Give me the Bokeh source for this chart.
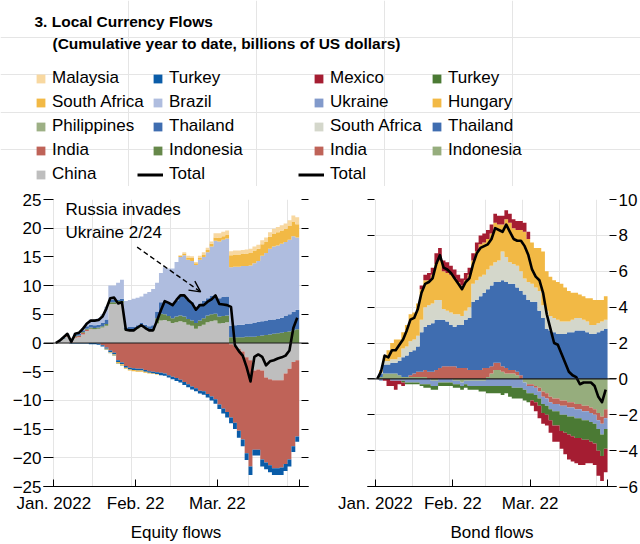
import numpy as np
from bokeh.plotting import figure
from bokeh.layouts import column, row
from bokeh.models import Span, Legend, LegendItem, FixedTicker, LinearAxis, Arrow, OpenHead, Label
from bokeh.core.properties import value
from bokeh.embed import file_html
from bokeh.resources import INLINE

FONT = "Liberation Sans"
FS = "17px"

# ---------------- data ----------------
# one value per business day, index 0 = 3 Jan 2022 ... index 62 = end of March 2022
month_ticks = [0, 21, 42, 63]
month_labels = ["Jan. 2022", "Feb. 22", "Mar. 22", ""]
eq_ticks = [-25, -20, -15, -10, -5, 0, 5, 10, 15, 20, 25]
bd_ticks = [-6, -4, -2, 0, 2, 4, 6, 8, 10]

# Equity flows (cumulative, billions of US dollars)
eq_china = [0, 0.3, 0.7, 1.1, 0.1, 0.9, 1.0, 1.5, 2.1, 2.4,
            2.4, 2.5, 2.7, 3.0, 6.8, 6.8, 7.0, 7.0, 2.2, 2.2,
            2.2, 2.5, 2.9, 2.6, 2.2, 2.2, 3.4, 3.9, 4.0, 3.8,
            3.5, 3.6, 3.8, 3.6, 3.2, 3.0, 2.5, 2.9, 3.2, 3.6,
            3.8, 3.9, 3.4, 3.5, 3.6, -0.2, -0.5, -1.0, -1.5, -2.5,
            -3.0, -4.8, -4.6, -4.8, -6.0, -6.3, -6.5, -6.5, -6.5, -5.3,
            -4.5, -3.3, -3.0]
eq_india = [0, 0, 0, 0.1, 0.1, 0.2, 0.2, 0.3, 0.2, 0.1,
            0, -0.1, -0.4, -0.8, -1.3, -1.7, -3.0, -3.4, -4.0, -4.3,
            -4.4, -4.5, -4.5, -4.7, -4.9, -5.0, -5.1, -5.2, -5.3, -5.6,
            -5.9, -6.1, -6.4, -6.8, -7.2, -7.6, -7.9, -8.3, -8.4, -8.9,
            -9.3, -9.8, -10.7, -11.4, -12.0, -12.8, -13.4, -14.3, -15.3, -16.7,
            -18.5, -13.8, -14.0, -15.5, -14.8, -15.0, -15.3, -15.3, -15.2, -15.8,
            -15.8, -14.7, -13.3]
eq_indonesia = [0, 0, 0.1, 0.1, 0, 0.1, 0.1, 0.1, 0.2, 0.2,
                0.2, 0.2, 0.2, 0.3, 0.3, 0.3, 0.3, 0.3, 0.2, 0.2,
                0.2, 0.2, 0.2, 0.2, 0.2, 0.3, 0.9, 1.2, 1.0, 0.9,
                0.8, 1.0, 1.0, 1.0, 1.0, 0.9, 1.0, 1.0, 1.1, 1.2,
                1.2, 1.2, 1.2, 1.2, 1.2, 1.0, 1.0, 1.0, 1.0, 1.1,
                1.1, 1.1, 1.2, 1.3, 1.4, 1.5, 1.6, 1.7, 1.8, 1.9,
                2.0, 2.2, 2.4]
eq_thailand = [0, 0, 0.1, 0.1, 0, 0.2, 0.3, 0.3, 0.4, 0.5,
               0.5, 0.5, 0.6, 0.8, 0.4, 0.4, 0.3, 0.4, 0.3, 0.4,
               0.4, 0.4, 0.4, 0.4, 0.5, 0.6, 1.2, 2.0, 2.3, 2.3,
               2.5, 2.8, 3.5, 3.7, 3.3, 3.2, 2.6, 3.0, 3.0, 3.0,
               3.2, 3.3, 3.2, 3.3, 3.3, 2.0, 2.1, 2.2, 2.2, 2.2,
               2.3, 2.4, 2.5, 2.5, 2.5, 2.5, 2.5, 2.5, 2.6, 2.8,
               3.0, 3.2, 3.4]
eq_brazil = [0, 0.1, 0.1, 0.2, 0.1, 0.3, 0.3, 0.4, 0.6, 0.9,
             1.0, 1.1, 1.5, 2.2, 2.5, 2.5, 2.9, 3.3, 4.6, 4.7,
             4.9, 4.8, 4.6, 5.4, 6.0, 6.3, 5.0, 5.1, 5.9, 6.0,
             6.2, 6.7, 6.7, 7.0, 7.0, 7.2, 7.5, 7.6, 7.7, 8.0,
             8.6, 9.4, 9.9, 10.0, 10.1, 10.2, 10.2, 10.1, 10.2, 10.1,
             10.1, 10.4, 10.6, 11.4, 11.8, 12.4, 12.7, 12.8, 12.9, 12.9,
             13.0, 13.2, 12.6]
eq_turkey = [0, 0, 0, 0, -0.1, -0.1, -0.1, -0.1, -0.1, -0.2,
             -0.2, -0.2, -0.2, -0.2, -0.3, -0.3, -0.3, -0.3, -0.3, -0.3,
             -0.3, -0.3, -0.3, -0.3, -0.3, -0.3, -0.3, -0.4, -0.4, -0.4,
             -0.4, -0.5, -0.5, -0.5, -0.5, -0.5, -0.5, -0.5, -0.6, -0.6,
             -0.7, -0.8, -0.8, -0.9, -1.0, -1.0, -1.1, -1.2, -1.2, -1.2,
             -1.5, -1.0, -1.0, -1.2, -1.2, -1.2, -1.2, -1.2, -1.3, -1.2,
             -1.2, -1.0, -0.9]
eq_south_africa = [0, 0, 0, 0, 0, 0, 0, 0, 0, 0,
                   0, 0, 0, -0.1, -0.1, -0.1, -0.2, -0.2, -0.2, -0.2,
                   -0.2, -0.2, -0.2, -0.2, -0.1, -0.1, -0.1, 0, 0, 0,
                   0, 0, 0.2, 0.3, 0.4, 0.5, 0.3, 0.3, 0.4, 0.4,
                   0.5, 0.6, 0.6, 0.6, 0.6, 2.1, 2.1, 2.1, 2.1, 2.2,
                   2.2, 2.2, 2.1, 2.0, 2.0, 2.1, 2.2, 2.3, 2.3, 2.3,
                   2.4, 2.5, 2.3]
eq_malaysia = [0, 0, 0, 0, 0, 0, 0, 0, 0, 0,
               0, 0, 0, 0, 0, 0, 0, 0, 0, 0,
               0, 0, 0, 0, 0, 0, 0, 0, 0, 0,
               0, 0, 0.1, 0.2, 0.3, 0.3, 0.2, 0.4, 0.4, 0.4,
               0.4, 0.7, 0.8, 0.8, 0.8, 0.7, 0.7, 0.7, 0.7, 0.7,
               0.7, 0.7, 0.7, 0.7, 0.7, 0.8, 0.9, 0.9, 0.9, 0.9,
               1.0, 1.1, 1.2]
eq_philippines = [0, 0, 0, 0, 0, 0, 0, 0, 0, 0,
                  0, 0, 0, -0.1, -0.1, -0.1, -0.1, -0.1, 0, 0,
                  0, 0, 0, 0, 0, 0, 0, 0, 0, 0,
                  0, 0, 0, 0, 0, 0, 0, 0, 0, 0,
                  0, 0, 0, 0, 0, 0, 0, 0, 0, 0,
                  0, 0, 0, 0, 0, 0, 0, 0, 0, 0,
                  0, 0, 0]
eq_total = [0, 0.4, 1.0, 1.6, 0.2, 1.6, 1.8, 2.5, 3.4, 3.9,
            3.9, 4.0, 4.6, 6.0, 7.8, 7.9, 6.9, 7.1, 2.3, 2.2,
            2.2, 2.7, 3.1, 2.6, 2.2, 2.2, 3.9, 5.7, 7.3, 7.0,
            6.6, 7.5, 8.3, 8.3, 7.5, 6.9, 5.8, 6.6, 6.6, 7.2,
            7.6, 8.3, 6.8, 6.7, 6.6, 6.3, -0.4, -1.4, -2.2, -4.2,
            -6.7, -2.4, -2.0, -2.4, -3.9, -3.2, -3.0, -2.7, -2.5, -2.2,
            -1.3, 2.6, 4.4]

# Bond flows (cumulative, billions of US dollars)
bd_indonesia = [0, 0.1, 0.3, 0.3, 0.3, 0.3, 0.2, 0.1, 0.1, 0.1,
                0.1, 0.1, 0.1, 0.1, 0, -0.1, -0.1, 0, 0, 0,
                0, -0.1, -0.1, -0.2, -0.1, -0.1, -0.1, -0.1, -0.1, -0.1,
                0.1, 0.3, 0.5, 0.5, 0.4, 0.3, 0.3, 0.3, 0.2, 0,
                -0.2, -0.3, -0.3, -0.4, -0.5, -0.7, -0.8, -1.0, -1.1, -1.1,
                -1.2, -1.2, -1.3, -1.3, -1.4, -1.4, -1.5, -1.5, -1.6, -1.7,
                -1.9, -2.1, -1.7]
bd_india = [0, 0, 0, 0, 0, 0, 0, 0, 0, 0.1,
            0.2, 0.3, 0.3, 0.4, 0.4, 0.4, 0.5, 0.6, 0.7, 0.7,
            0.7, 0.7, 0.6, 0.6, 0.6, 0.5, 0.5, 0.5, 0.5, 0.6,
            0.5, 0.4, 0.4, 0.4, 0.3, 0.3, 0.2, 0.2, 0.2, 0.2,
            0, -0.1, -0.1, -0.1, -0.2, -0.3, -0.3, -0.3, -0.3, -0.3,
            -0.3, -0.3, -0.3, -0.3, -0.3, -0.3, -0.3, -0.3, -0.3, -0.3,
            -0.4, -0.4, -0.5]
bd_ukraine = [0, -0.1, 0, 0, -0.1, -0.1, -0.1, -0.1, -0.2, -0.2,
              -0.2, -0.2, -0.3, -0.3, -0.3, -0.3, -0.3, -0.2, -0.2, -0.2,
              -0.2, -0.2, -0.2, -0.2, -0.2, -0.3, -0.3, -0.3, -0.3, -0.3,
              -0.4, -0.4, -0.4, -0.4, -0.4, -0.4, -0.4, -0.5, -0.5, -0.5,
              -0.4, -0.4, -0.4, -0.4, -0.4, -0.4, -0.4, -0.4, -0.4, -0.4,
              -0.5, -0.5, -0.5, -0.5, -0.5, -0.5, -0.5, -0.5, -0.5, -0.5,
              -0.5, -0.6, -0.6]
bd_thailand = [0, 0.2, 0.5, 0.5, 0.6, 0.6, 0.8, 1.1, 1.2, 1.3,
               1.3, 1.4, 2.2, 2.4, 2.6, 2.7, 2.8, 2.7, 2.6, 2.5,
               2.3, 2.2, 2.4, 2.4, 2.7, 2.9, 3.8, 3.9, 4.1, 4.2,
               4.4, 4.5, 4.5, 4.5, 4.8, 4.8, 4.8, 4.8, 4.7, 4.7,
               4.7, 4.4, 4.3, 4.3, 3.8, 3.4, 2.8, 2.7, 2.6, 2.5,
               2.5, 2.5, 2.6, 2.6, 2.7, 2.7, 2.7, 2.6, 2.5, 2.5,
               2.6, 2.7, 2.8]
bd_turkey = [0, 0, 0, 0, 0, 0, 0, -0.1, -0.1, -0.1,
             -0.1, -0.1, -0.1, -0.2, -0.2, -0.2, -0.2, -0.2, -0.2, -0.2,
             -0.2, -0.2, -0.2, -0.2, -0.2, -0.2, -0.2, -0.2, -0.3, -0.3,
             -0.4, -0.4, -0.4, -0.4, -0.5, -0.4, -0.6, -0.6, -0.6, -0.6,
             -0.6, -0.5, -0.4, -0.4, -0.4, -0.5, -0.5, -0.6, -0.8, -0.8,
             -0.9, -1.0, -1.0, -1.1, -1.1, -1.1, -1.1, -1.1, -1.1, -1.1,
             -1.2, -1.2, -1.1]
bd_south_africa = [0, 0.1, 0.2, 0.2, 0.2, 0.2, 0.2, 0.5, 0.5, 0.6,
                   0.6, 0.6, 0.7, 1.1, 1.1, 1.1, 1.1, 1.1, 0.6, 0.6,
                   0.7, 0.7, 0.6, 0.5, 0.5, 0.6, 1.0, 1.1, 1.1, 1.0,
                   1.1, 1.1, 1.1, 1.2, 1.6, 1.4, 1.2, 1.1, 1.2, 1.1,
                   0.9, 1.0, 1.0, 0.8, 1.1, 0.7, 1.0, 0.8, 0.8, 0.8,
                   0.7, 0.7, 0.6, 0.7, 0.7, 0.7, 0.6, 0.6, 0.5, 0.5,
                   0.5, 0.5, 0.5]
bd_hungary = [0, 0.1, 0.3, 0.6, 0.9, 1.1, 1.0, 0.9, 1.2, 1.5,
              1.5, 1.8, 1.7, 1.5, 1.4, 1.6, 2.0, 2.2, 2.1, 2.1,
              2.1, 2.0, 1.8, 1.7, 1.7, 1.8, 1.3, 1.6, 1.8, 1.8,
              1.7, 1.8, 2.2, 2.0, 1.5, 2.1, 2.2, 2.0, 2.0, 2.3,
              2.6, 2.4, 2.3, 2.2, 2.4, 3.0, 2.2, 2.2, 2.1, 2.1,
              2.1, 1.9, 1.7, 1.5, 1.4, 1.3, 1.3, 1.3, 1.5, 1.4,
              1.3, 1.2, 1.3]
bd_mexico = [0, 0, -0.1, -0.4, -0.3, -0.5, -0.2, -0.2, 0, 0,
             0, 0, 0.2, 0.3, 0.4, 0.4, 0.6, 0.7, 0.6, 0.6,
             0.5, 0.5, 0.4, 0.4, 0.4, 0.4, 0.4, 0.5, 0.5, 0.5,
             0.5, 0.5, 0.5, 0.5, 0.5, 0.5, 0.5, 0.5, 0.5, 0.5,
             0.5, 0.4, -0.3, -0.5, -0.7, -0.6, -0.6, -0.7, -0.9, -0.9,
             -1.0, -1.2, -1.4, -1.4, -1.4, -1.5, -1.4, -1.3, -1.2, -1.2,
             -1.4, -1.4, -1.3]
bd_total = [0, 0.4, 1.3, 1.2, 1.6, 1.6, 1.9, 2.2, 2.7, 3.3,
            3.4, 3.9, 4.8, 5.3, 5.4, 5.6, 6.4, 6.9, 6.2, 6.1,
            5.9, 5.6, 5.3, 5.0, 5.4, 5.6, 6.4, 7.0, 7.3, 7.4,
            7.5, 7.8, 8.4, 8.3, 8.2, 8.6, 8.2, 7.8, 7.7, 7.7,
            7.4, 6.9, 6.1, 5.7, 5.5, 4.8, 3.6, 2.8, 2.0, 1.9,
            1.4, 0.9, 0.4, 0.2, 0.1, -0.3, -0.2, -0.2, -0.2, -0.4,
            -1.0, -1.3, -0.6]

# annotation
note_lines = ["Russia invades", "Ukraine 2/24"]
note_x = 3.0
note_y = [23.3, 19.2]
arrow_from = (21.4, 16.7)
arrow_to = (37.7, 8.9)

# ---------------- colours ----------------
C_CHINA = "#BEBEBE"; C_INDIA = "#BF6358"; C_INDO_EQ = "#66884A"; C_THAI = "#3F6DB0"
C_BRAZIL = "#AFBDDF"; C_TURKEY_EQ = "#0A5CA8"; C_YELLOW = "#F2B945"; C_MALAYSIA = "#F8D8A0"
C_PHIL = "#9DB085"
C_INDO_BD = "#96AD7D"; C_UKRAINE = "#829ACB"; C_TURKEY_BD = "#4B7A34"; C_SA_BD = "#D4D7CB"
C_MEXICO = "#A51D32"

eq_series = [eq_china, eq_india, eq_indonesia, eq_thailand, eq_brazil,
             eq_turkey, eq_south_africa, eq_malaysia, eq_philippines]
eq_colors = [C_CHINA, C_INDIA, C_INDO_EQ, C_THAI, C_BRAZIL,
             C_TURKEY_EQ, C_YELLOW, C_MALAYSIA, C_PHIL]
bd_series = [bd_indonesia, bd_india, bd_ukraine, bd_thailand, bd_turkey,
             bd_south_africa, bd_hungary, bd_mexico]
bd_colors = [C_INDO_BD, C_INDIA, C_UKRAINE, C_THAI, C_TURKEY_BD,
             C_SA_BD, C_YELLOW, C_MEXICO]


def minus(t):
    return str(t) if t >= 0 else "\u2212" + str(-t)


def draw_stack(p, series, colors, total):
    n = len(series[0])
    idx = np.arange(n)
    xs = np.empty(2 * n)
    xs[0::2] = idx
    xs[1::2] = idx + 1
    pos = np.zeros(n)
    neg = np.zeros(n)
    for vals, col in zip(series, colors):
        v = np.asarray(vals, dtype=float)
        base = np.where(v >= 0, pos, neg)
        top = base + v
        pos = np.where(v >= 0, top, pos)
        neg = np.where(v < 0, top, neg)
        p.varea(x=xs, y1=np.repeat(base, 2), y2=np.repeat(top, 2), fill_color=col)
    p.add_layout(Span(location=0, dimension="width", line_color="#1a1a1a", line_width=1.2))
    p.line(idx + 0.5, total, line_color="black", line_width=2.6, line_join="round")


def style_axis(ax, tick_in):
    ax.major_tick_in = tick_in
    ax.major_tick_out = 0
    ax.minor_tick_line_color = None
    ax.major_tick_line_color = "black"
    ax.major_tick_line_width = 1
    ax.major_label_text_font = FONT
    ax.major_label_text_font_size = FS
    ax.major_label_text_color = "black"


def make_panel(width, border_left, border_right, x_range, y_range, yticks, label_side, xlabel):
    p = figure(width=width, height=358, x_range=x_range, y_range=y_range,
               toolbar_location=None, output_backend="svg", title=None,
               x_axis_location=None, y_axis_location=None,
               min_border_left=border_left, min_border_right=border_right,
               min_border_top=13, min_border_bottom=57)
    p.outline_line_color = None

    xaxis = LinearAxis(ticker=FixedTicker(ticks=month_ticks),
                       major_label_overrides=dict(zip(month_ticks, month_labels)),
                       axis_label=xlabel)
    style_axis(xaxis, 7)
    xaxis.axis_line_color = "black"
    xaxis.axis_line_width = 1
    xaxis.major_label_standoff = 7
    xaxis.axis_label_standoff = 7
    xaxis.axis_label_text_font = FONT
    xaxis.axis_label_text_font_size = FS
    xaxis.axis_label_text_font_style = "normal"
    xaxis.axis_label_text_color = "black"
    p.add_layout(xaxis, "below")

    for side in ("left", "right"):
        if side == label_side:
            labels = {t: minus(t) for t in yticks}
        else:
            labels = {t: "" for t in yticks}
        ax = LinearAxis(ticker=FixedTicker(ticks=yticks), major_label_overrides=labels)
        style_axis(ax, 10 if (side == "left" and label_side == "left") else 7)
        ax.axis_line_color = None
        ax.major_label_standoff = 2
        p.add_layout(ax, side)
    return p


# ---------------- equity panel ----------------
pL = make_panel(328, 43, 20, (-2.64, 65.39), (-25, 25), eq_ticks, "left", "Equity flows")
draw_stack(pL, eq_series, eq_colors, eq_total)
pL.text(x=[note_x, note_x], y=note_y, text=note_lines, text_font=value(FONT),
        text_font_size=value(FS), text_baseline="middle", text_align="left",
        text_color="black")
pL.add_layout(Arrow(end=OpenHead(size=11, line_width=1.4, line_color="black"),
                    x_start=arrow_from[0], y_start=arrow_from[1],
                    x_end=arrow_to[0], y_end=arrow_to[1],
                    line_dash="5 3", line_width=1.4, line_color="black"))

# ---------------- bond panel ----------------
pR = make_panel(312, 39, 23, (-2.16, 65.43), (-6, 10), bd_ticks, "right", "Bond flows")
draw_stack(pR, bd_series, bd_colors, bd_total)

# ---------------- header: title + legends ----------------
header = figure(width=640, height=186, x_range=(0, 1), y_range=(0, 1),
                toolbar_location=None, output_backend="svg", title=None,
                x_axis_location=None, y_axis_location=None, min_border=0)
header.outline_line_color = None
header.add_layout(Label(x=34, y=165, x_units="screen", y_units="screen",
                        text="3. Local Currency Flows", text_font=FONT,
                        text_font_size="15.5px", text_font_style="bold",
                        text_baseline="middle", text_color="black"))
header.add_layout(Label(x=52, y=143, x_units="screen", y_units="screen",
                        text="(Cumulative year to date, billions of US dollars)",
                        text_font=FONT, text_font_size="15.5px", text_font_style="bold",
                        text_baseline="middle", text_color="black"))


# legend proxies (single degenerate mark outside the visible header range)
def swatch(color):
    return header.quad(left=[-1], right=[-1], top=[-1], bottom=[-1],
                       fill_color=color, line_color=None)


total_swatch = header.line(x=[-1, -1], y=[-1, -1], line_color="black", line_width=3)


def add_legend(entries, x, y, glyph_w=11):
    lg = Legend(items=[LegendItem(label=lab, renderers=[r]) for lab, r in entries],
                location=(x, y), orientation="vertical",
                glyph_width=glyph_w, glyph_height=11, label_standoff=6, spacing=4,
                label_height=20, padding=0, margin=0, border_line_color=None,
                background_fill_alpha=0, label_text_font=FONT,
                label_text_font_size=FS, label_text_color="black")
    header.add_layout(lg)


add_legend([("Malaysia", swatch(C_MALAYSIA)), ("South Africa", swatch(C_YELLOW)),
            ("Philippines", swatch(C_PHIL)), ("India", swatch(C_INDIA)),
            ("China", swatch(C_CHINA))], 35, 2)
add_legend([("Turkey", swatch(C_TURKEY_EQ)), ("Brazil", swatch(C_BRAZIL)),
            ("Thailand", swatch(C_THAI)), ("Indonesia", swatch(C_INDO_EQ))], 152, 26)
add_legend([("Total", total_swatch)], 137, 2, glyph_w=26)
add_legend([("Mexico", swatch(C_MEXICO)), ("Ukraine", swatch(C_UKRAINE)),
            ("South Africa", swatch(C_SA_BD)), ("India", swatch(C_INDIA))], 313, 26)
add_legend([("Total", total_swatch)], 298, 2, glyph_w=26)
add_legend([("Turkey", swatch(C_TURKEY_BD)), ("Hungary", swatch(C_YELLOW)),
            ("Thailand", swatch(C_THAI)), ("Indonesia", swatch(C_INDO_BD))], 431, 26)

layout = column(header, row(pL, pR))
open("out.html", "w").write(file_html(layout, INLINE))
